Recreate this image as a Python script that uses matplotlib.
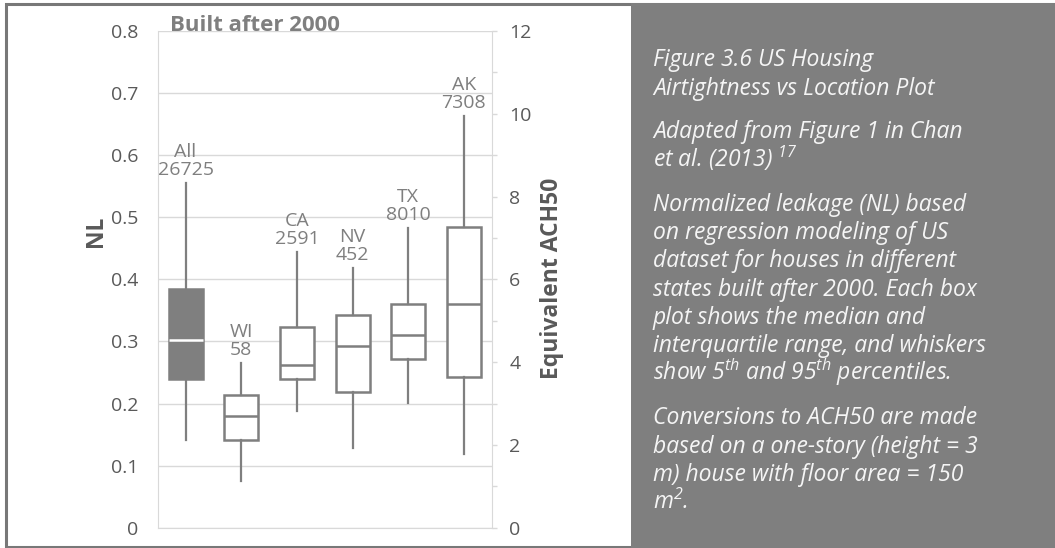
import matplotlib
matplotlib.use('Agg')
import matplotlib.pyplot as plt
from matplotlib.patches import Rectangle
from matplotlib.ticker import MultipleLocator

# box plot values (NL)
states = ['All', 'WI', 'CA', 'NV', 'TX', 'AK']
counts = [26725, 58, 2591, 452, 8010, 7308]
p5 = [0.141, 0.076, 0.188, 0.129, 0.201, 0.119]
q1 = [0.239, 0.141, 0.239, 0.219, 0.271, 0.242]
med = [0.302, 0.180, 0.262, 0.293, 0.310, 0.360]
q3 = [0.384, 0.213, 0.324, 0.343, 0.360, 0.484]
p95 = [0.555, 0.265, 0.444, 0.418, 0.482, 0.663]

nl_ticks = [0, 0.1, 0.2, 0.3, 0.4, 0.5, 0.6, 0.7, 0.8]
ach_max = 12

caption = [
    ['Figure 3.6 US Housing', 'Airtightness vs Location Plot'],
    ['Adapted from Figure 1 in Chan', 'et al. (2013) $^{17}$'],
    ['Normalized leakage (NL) based', 'on regression modeling of US',
     'dataset for houses in different', 'states built after 2000. Each box',
     'plot shows the median and', 'interquartile range, and whiskers',
     'show 5$^{th}$ and 95$^{th}$ percentiles.'],
    ['Conversions to ACH50 are made', 'based on a one-story (height = 3',
     'm) house with floor area = 150', 'm$^{2}$.'],
]

plt.rcParams['font.family'] = ['Open Sans', 'DejaVu Sans']
plt.rcParams['mathtext.fontset'] = 'custom'
plt.rcParams['mathtext.it'] = 'Open Sans:italic'
plt.rcParams['mathtext.rm'] = 'Open Sans:italic'

gray = '#7f7f7f'
dark = '#595959'
grid = '#d9d9d9'

W, H = 1055, 548
fig = plt.figure(figsize=(W / 100, H / 100), dpi=100)

# frame around the chart and grey caption panel
fig.patches.append(Rectangle((6 / W, 1.5 / H), 1 - 6 / W, 1 - 5.5 / H, transform=fig.transFigure,
                             fill=False, edgecolor='#787878', linewidth=2.2))
fig.patches.append(Rectangle((631 / W, 0), 1 - 631 / W, 1 - 3 / H, transform=fig.transFigure,
                             facecolor=gray, edgecolor='none'))

ax = fig.add_axes([157.7 / W, 1 - 527.7 / H, 334 / W, (527.7 - 31) / H])
ax.set_axisbelow(True)

stats = []
for s, lo, a, m, b, hi in zip(states, p5, q1, med, q3, p95):
    stats.append(dict(label=s, whislo=lo, q1=a, med=m, q3=b, whishi=hi, fliers=[]))

bp = ax.bxp(stats, positions=range(len(states)), widths=0.61, patch_artist=True,
            showcaps=False, showfliers=False,
            boxprops=dict(facecolor='white', edgecolor=gray, linewidth=1.8),
            medianprops=dict(color=gray, linewidth=1.8),
            whiskerprops=dict(color=gray, linewidth=1.6))
bp['boxes'][0].set_facecolor(gray)
bp['medians'][0].set_color('white')

for i, (s, n) in enumerate(zip(states, counts)):
    ax.annotate(f'{s}\n{n}', xy=(i, p95[i]), xytext=(0, 3), textcoords='offset points',
                ha='center', va='bottom', fontsize=14, color=gray, linespacing=1.0)

ax.set_xlim(-0.5, len(states) - 0.5)
ax.set_ylim(0, 0.8)
ax.set_xticks([])
ax.set_yticks(nl_ticks)
ax.set_yticklabels([f'{v:g}' for v in nl_ticks])
ax.tick_params(axis='y', length=0, pad=14, labelsize=14, labelcolor=dark)
ax.grid(axis='y', color=grid, linewidth=1)
ax.spines['top'].set_visible(False)
ax.spines['right'].set_visible(False)
for sp in ['left', 'bottom']:
    ax.spines[sp].set_color(grid)

ax2 = ax.twinx()
ax2.set_ylim(0, ach_max)
ax2.yaxis.set_major_locator(MultipleLocator(2))
ax2.yaxis.set_minor_locator(MultipleLocator(1))
ax2.tick_params(which='both', length=3.6, width=1, color=grid, pad=9, labelsize=14, labelcolor=dark)
for sp in ['top', 'left', 'bottom']:
    ax2.spines[sp].set_visible(False)
ax2.spines['right'].set_color(grid)

ax.text(0.037, 0.8, 'Built after 2000', transform=ax.get_yaxis_transform(), va='baseline',
        fontsize=16, fontweight='bold', color=gray)
fig.text(96 / W, 1 - 231 / H, 'NL', rotation=90, ha='center', va='center',
         fontsize=16.5, fontweight='bold', color=dark)
fig.text(552 / W, 1 - 278 / H, 'Equivalent ACH50', rotation=90, ha='center', va='center',
         fontsize=16.5, fontweight='bold', color=dark)

y = 66.4
for para in caption:
    for line in para:
        fig.text(653 / W, 1 - y / H, line, ha='left', va='baseline', fontsize=16.5,
                 style='italic', color='#f5f5f5')
        y += 28.3
    y += 15.5

fig.savefig('out.png', dpi=100)
